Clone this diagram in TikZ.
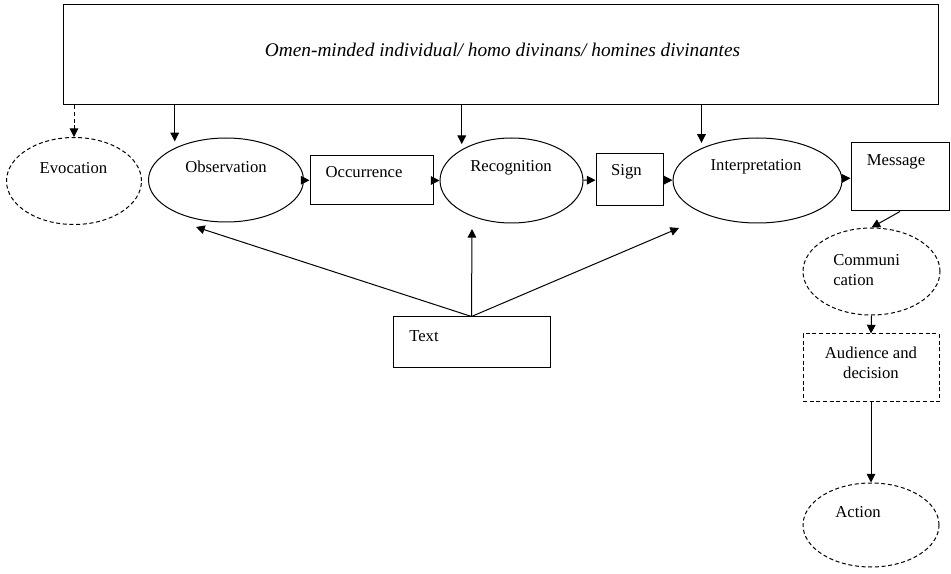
\documentclass[tikz,border=0pt]{standalone}
\usepackage{fontspec}
\setmainfont{Liberation Serif}
\usetikzlibrary{arrows.meta,shapes.geometric}
\tikzset{
  arr/.style={-{Triangle[length=6.5pt,width=6.5pt]}, line width=0.75pt},
  oval/.style={draw, ellipse, line width=0.75pt, inner sep=0pt},
  box/.style={draw, rectangle, line width=0.75pt, inner sep=0pt},
  dashy/.style={dash pattern=on 3pt off 2pt},
  lbl/.style={font=\fontsize{12.5}{15}\selectfont, inner sep=0pt}
}
\begin{document}
\begin{tikzpicture}[x=0.75pt,y=-0.75pt]
  \useasboundingbox (0,0) rectangle (951,574);
  % the diviner on top
  \node [ box, minimum width=656.25pt, minimum height=75pt ] (seer) at (500.5,55) {};
  \node [ lbl, font=\fontsize{14.5}{17}\selectfont\itshape ] (seerl) at (502.5,50)
    { Omen-minded individual/ homo divinans/ homines divinantes };
  % main row
  \node [ oval, dashy, minimum width=101.25pt, minimum height=65.25pt ] (evo) at (74,181) {};
  \node [ oval, minimum width=116.25pt, minimum height=63pt ] (obs) at (226,180) {};
  \node [ box, minimum width=92.25pt, minimum height=36.75pt ] (occ) at (371.5,180.5) {};
  \node [ oval, minimum width=107.25pt, minimum height=63.75pt ] (rec) at (511.5,180.5) {};
  \node [ box, minimum width=50.25pt, minimum height=39pt ] (sign) at (629.5,180) {};
  \node [ oval, minimum width=126.75pt, minimum height=63.75pt ] (int) at (757.5,180.5) {};
  \node [ box, minimum width=73.5pt, minimum height=51pt ] (msg) at (900,177) {};
  % right column
  \node [ oval, dashy, minimum width=102.75pt, minimum height=65.25pt ] (com) at (871.5,271.5) {};
  \node [ box, dashy, minimum width=102pt, minimum height=51pt ] (aud) at (871,368) {};
  \node [ oval, dashy, minimum width=102pt, minimum height=63pt ] (act) at (871,525) {};
  % text source
  \node [ box, minimum width=117.75pt, minimum height=38.25pt ] (text) at (471.5,342.5) {};
  % labels
  \node [ lbl ] (evol) at (73.5,168) { Evocation };
  \node [ lbl ] (obsl) at (226,167) { Observation };
  \node [ lbl ] (occl) at (364,172) { Occurrence };
  \node [ lbl ] (recl) at (511,168) { Recognition };
  \node [ lbl ] (signl) at (626.5,172) { Sign };
  \node [ lbl ] (intl) at (756,167) { Interpretation };
  \node [ lbl ] (msgl) at (896,162) { Message };
  \node [ lbl, align=left, anchor=west ] (coml) at (833,270) { Communi\\cation };
  \node [ lbl, align=center ] (audl) at (871,363) { Audience and\\decision };
  \node [ lbl ] (actl) at (858,512) { Action };
  \node [ lbl ] (textl) at (424,336) { Text };
  % arrows from the diviner
  \draw [ arr, dashy ] (seer.south -| evo.north) -- (evo.north);
  \draw [ arr, shorten >=5pt ] (seer.south -| obs.148) -- (obs.148);
  \draw [ arr, shorten >=4pt ] (seer.south -| rec.148) -- (rec.148);
  \draw [ arr, shorten >=4pt ] (seer.south -| int.150) -- (int.150);
  % along the row
  \draw [ arr ] (obs) -- (occ);
  \draw [ arr ] (occ) -- (rec);
  \draw [ arr ] (rec) -- (sign);
  \draw [ arr ] (sign) -- (int);
  \draw [ arr ] (int) -- (msg);
  \draw [ arr ] (msg.south) -- (com.north);
  \draw [ arr ] (com.south) -- (aud.north);
  \draw [ arr ] (aud.south) -- (act.north);
  % from the text
  \coordinate (tobs) at (196,227);
  \coordinate (trec) at (472,229);
  \coordinate (tint) at (679,228);
  \draw [ arr ] (text.north) -- (tobs);
  \draw [ arr ] (text.north) -- (trec);
  \draw [ arr ] (text.north) -- (tint);
\end{tikzpicture}
\end{document}
